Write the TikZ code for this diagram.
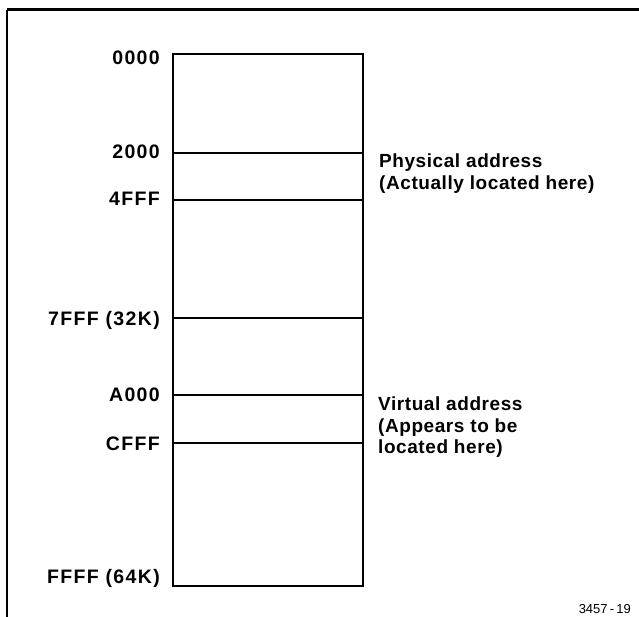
\documentclass[tikz,border=0pt]{standalone}
\usepackage{fontspec}
\setmainfont{Liberation Sans}[LetterSpace=3, UprightFont=*, BoldFont=* Bold]
\newfontfamily\addrfont{Liberation Sans Bold}[LetterSpace=7]
\newfontfamily\figfont{Liberation Sans}
\usetikzlibrary{positioning,calc}

\begin{document}
\begin{tikzpicture}[x=1pt, y=-1pt, addr/.style={anchor=base east, inner sep=0pt, font=\addrfont\fontsize{19.5}{21}\selectfont}, note/.style={anchor=north west, align=left, inner sep=0pt, font=\bfseries\fontsize{19}{21.5}\selectfont}, mem/.style={draw, line width=2.3pt, inner sep=0pt, anchor=north west}, divide/.style={line width=2.3pt}]

\useasboundingbox (0,0) rectangle (639,617);

\coordinate (corner) at (7,10);
\coordinate (topend) at (639,10);
\coordinate (leftend) at (7,617);
\draw[line width=3pt] (corner) -- (topend);
\draw[line width=2pt] (corner) -- (leftend);

\node[mem, minimum width=190pt, minimum height=532pt] (map) at (172,53) {};

\foreach \y in {153,200,318,395,443}
  \draw[divide] (map.west |- 0,\y) -- (map.east |- 0,\y);

\node[addr] (a0000) at (160,65) {0000};
\node[addr] (a2000) at (160,159) {2000};
\node[addr] (a4fff) at (160,206) {4FFF};
\node[addr] (a7fff) at (160,325) {7FFF (32K)};
\node[addr] (aa000) at (160,401) {A000};
\node[addr] (acfff) at (160,450) {CFFF};
\node[addr] (affff) at (160,583) {FFFF (64K)};

\node[note] (phys) at (379,154) {Physical address\\(Actually located here)};
\node[note] (virt) at (378,397) {Virtual address\\(Appears to be\\located here)};

\node[anchor=base east, inner sep=0pt, font=\figfont\fontsize{13}{15}\selectfont] (fig) at (631,613) {3457\,-\,19};
\end{tikzpicture}
\end{document}
